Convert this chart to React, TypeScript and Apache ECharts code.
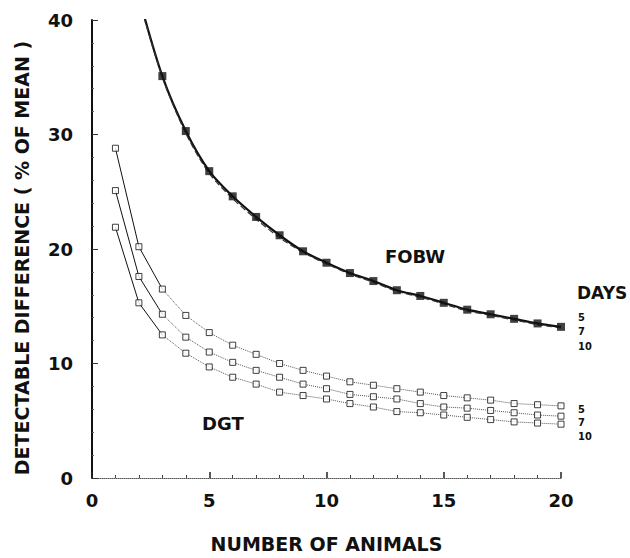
import React, { useEffect, useRef } from "react";
import * as echarts from "echarts";

// Number of animals
const animals = [1, 2, 3, 4, 5, 6, 7, 8, 9, 10, 11, 12, 13, 14, 15, 16, 17, 18, 19, 20];

// DGT detectable difference (% of mean) for 5, 7, 10 days
const dgt5 = [28.8, 20.2, 16.5, 14.2, 12.7, 11.6, 10.8, 10.0, 9.4, 8.9, 8.4, 8.1, 7.8, 7.5, 7.2, 7.0, 6.8, 6.5, 6.4, 6.3];
const dgt7 = [25.1, 17.6, 14.3, 12.3, 11.0, 10.1, 9.4, 8.8, 8.2, 7.8, 7.3, 7.1, 6.9, 6.5, 6.2, 6.1, 5.9, 5.7, 5.5, 5.4];
const dgt10 = [21.9, 15.3, 12.5, 10.9, 9.7, 8.8, 8.2, 7.5, 7.2, 6.9, 6.5, 6.2, 5.8, 5.7, 5.5, 5.3, 5.1, 4.9, 4.8, 4.7];

// FOBW curve (fitted line starts at 2 animals, points from 3 animals)
const fobwAnimals = [2, 3, 4, 5, 6, 7, 8, 9, 10, 11, 12, 13, 14, 15, 16, 17, 18, 19, 20];
const fobw5 = [42.0, 35.1, 30.3, 26.8, 24.6, 22.8, 21.2, 19.8, 18.8, 17.9, 17.2, 16.4, 15.9, 15.3, 14.7, 14.3, 13.9, 13.5, 13.2];
const fobw7 = [41.8, 35.0, 30.1, 26.6, 24.4, 22.6, 21.0, 19.7, 18.7, 17.8, 17.1, 16.3, 15.8, 15.2, 14.6, 14.2, 13.8, 13.4, 13.1];

// Axis ticks
const xTicks = { min: 0, max: 20, interval: 5 };
const yTicks = { min: 0, max: 40, interval: 10 };

const FONT = "'DejaVu Sans', sans-serif";

const pairs = (xs: number[], ys: number[], from = 0, to = ys.length) =>
  ys.slice(from, to).map((v, i) => [xs[from + i], v]);

export default function App() {
  const ref = useRef<HTMLDivElement>(null);
  useEffect(() => {
    document.body.style.margin = "0";
    const chart = echarts.init(ref.current!, undefined, { renderer: "svg" });

    const dgtSeries: any[] = [];
    [dgt5, dgt7, dgt10].forEach((arr, k) => {
      dgtSeries.push({
        type: "line",
        name: "dgt-solid-" + k,
        data: pairs(animals, arr, 0, 3),
        showSymbol: false,
        lineStyle: { color: "#111", width: 1 },
        z: 2,
      });
      dgtSeries.push({
        type: "line",
        name: "dgt-dot-" + k,
        data: pairs(animals, arr, 2),
        showSymbol: false,
        lineStyle: { color: "#555", width: 1, type: "dotted" },
        z: 2,
      });
      dgtSeries.push({
        type: "scatter",
        name: "dgt-pts-" + k,
        data: pairs(animals, arr),
        symbol: "rect",
        symbolSize: 6,
        itemStyle: { color: "#fff", borderColor: "#111", borderWidth: 1 },
        z: 3,
      });
    });

    const small = `bold 11px 'DejaVu Sans Condensed', ${FONT}`;

    chart.setOption({
      animation: false,
      backgroundColor: "#fff",
      grid: { left: 92, right: 69, top: 20, bottom: 74 },
      xAxis: {
        type: "value",
        ...xTicks,
        name: "NUMBER OF ANIMALS",
        nameLocation: "middle",
        nameGap: 56,
        nameTextStyle: { fontFamily: FONT, fontWeight: "bold", fontSize: 19, color: "#111" },
        axisLine: { show: true, lineStyle: { color: "#555", width: 1, type: "dotted" } },
        axisTick: { show: true, inside: true, length: 6, lineStyle: { color: "#222", width: 1.5 } },
        minorTick: { show: true, splitNumber: 5, length: 3, lineStyle: { color: "#444", width: 1 } },
        splitLine: { show: false },
        axisLabel: { fontFamily: FONT, fontWeight: "bold", fontSize: 18, color: "#111", margin: 13 },
      },
      yAxis: {
        type: "value",
        ...yTicks,
        axisLine: { show: true, lineStyle: { color: "#111", width: 2 } },
        axisTick: { show: true, inside: true, length: 6, lineStyle: { color: "#333", width: 1 } },
        minorTick: { show: true, splitNumber: 5, length: 2, lineStyle: { color: "#666", width: 1 } },
        splitLine: { show: false },
        axisLabel: { fontFamily: FONT, fontWeight: "bold", fontSize: 18, color: "#111", margin: 19 },
      },
      series: [
        {
          type: "line",
          name: "fobw-5",
          data: pairs(fobwAnimals, fobw5),
          smooth: 0.3,
          showSymbol: false,
          lineStyle: { color: "#111", width: 2.2 },
          z: 4,
        },
        {
          type: "line",
          name: "fobw-7",
          data: pairs(fobwAnimals, fobw7),
          smooth: 0.3,
          showSymbol: false,
          lineStyle: { color: "#333", width: 1.2, type: [6, 3] },
          z: 4,
        },
        {
          type: "scatter",
          name: "fobw-pts",
          data: pairs(fobwAnimals, fobw5, 1),
          symbol: "rect",
          symbolSize: 8,
          itemStyle: { color: "#111" },
          z: 5,
        },
        ...dgtSeries,
      ],
      graphic: [
        {
          type: "text",
          x: 22,
          y: 258,
          rotation: Math.PI / 2,
          style: {
            text: "DETECTABLE DIFFERENCE ( % OF MEAN )",
            font: `bold 19px ${FONT}`,
            fill: "#111",
            align: "center",
            verticalAlign: "middle",
          },
        },
        { type: "text", left: 385, top: 247, style: { text: "FOBW", font: `bold 18px ${FONT}`, fill: "#111" } },
        { type: "text", left: 202, top: 414, style: { text: "DGT", font: `bold 18px ${FONT}`, fill: "#111" } },
        { type: "text", left: 577, top: 284, style: { text: "DAYS", font: `bold 17px ${FONT}`, fill: "#111" } },
        { type: "text", left: 578, top: 312, style: { text: "5", font: small, fill: "#111" } },
        { type: "text", left: 578, top: 326, style: { text: "7", font: small, fill: "#111" } },
        { type: "text", left: 578, top: 341, style: { text: "10", font: small, fill: "#111" } },
        { type: "text", left: 578, top: 404, style: { text: "5", font: small, fill: "#111" } },
        { type: "text", left: 578, top: 417, style: { text: "7", font: small, fill: "#111" } },
        { type: "text", left: 578, top: 431, style: { text: "10", font: small, fill: "#111" } },
      ],
    });
    return () => chart.dispose();
  }, []);
  return <div ref={ref} style={{ width: 630, height: 558 }} />;
}
